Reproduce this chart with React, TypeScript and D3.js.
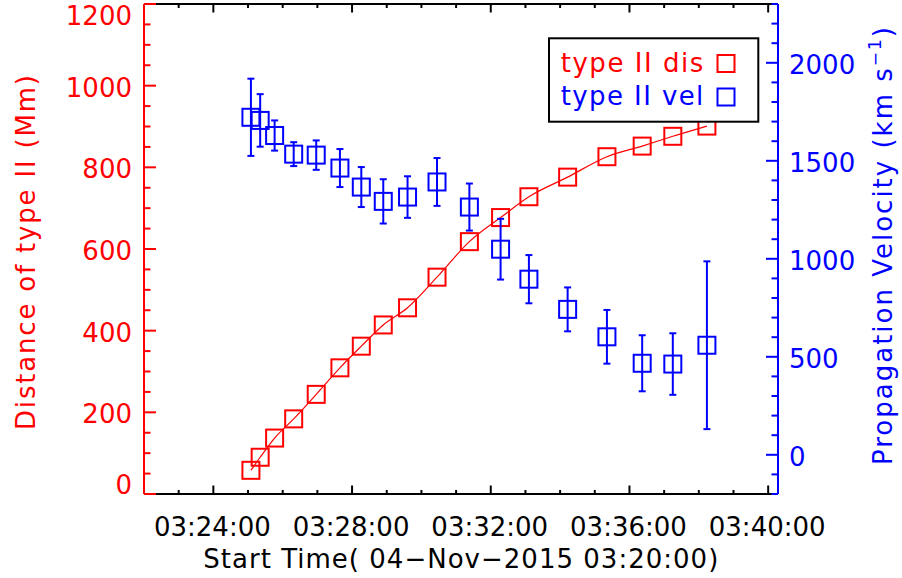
import React from "react";
import * as d3 from "d3";

// Type II radio burst: shock front distance and propagation speed
// Times are seconds after the reference start time 03:20:00 UT
const timeSec = [305, 321, 346, 379, 418, 459, 496, 534, 576, 627, 683, 737, 786, 853, 921, 982, 1035, 1094];
const distanceMm = [58, 90, 137, 184, 244, 309, 362, 414, 456, 531, 618, 677, 728, 776, 826, 852, 876, 901];
const velocityKms = [1722, 1706, 1629, 1534, 1529, 1463, 1366, 1293, 1315, 1392, 1264, 1049, 896, 742, 602, 467, 463, 559];
const velocityErr = [197, 134, 77, 61, 75, 97, 102, 113, 106, 122, 120, 155, 123, 112, 137, 143, 157, 428];

const timeMajorTicks = [240, 480, 720, 960, 1200];
const timeTickLabels = ["03:24:00", "03:28:00", "03:32:00", "03:36:00", "03:40:00"];
const distMajorTicks = [0, 200, 400, 600, 800, 1000, 1200];
const velMajorTicks = [0, 500, 1000, 1500, 2000];

const legendLabels = ["type II dis", "type II vel"];

const W = 902;
const H = 578;
const left = 144;
const right = 778;
const top = 4;
const bottom = 494;

const RED = "#ff0000";
const BLUE = "#0000ff";
const FONT = "'DejaVu Sans', sans-serif";

export default function App() {
  const x = d3.scaleLinear().domain([120, 1217]).range([left, right]);
  const yDist = d3.scaleLinear().domain([0, 1200]).range([bottom, top]);
  const yVel = d3.scaleLinear().domain([-200, 2300]).range([bottom, top]);

  const timeMinor = d3.range(120, 1201, 60);
  const distMinor = d3.range(0, 1201, 50);
  const velMinor = d3.range(-200, 2301, 100);

  const distLine = d3
    .line<number>()
    .x((_, i) => x(timeSec[i]))
    .y((d) => yDist(d))
    .curve(d3.curveMonotoneX)(distanceMm);

  const sq = 17;
  const cap = 3.5;

  return (
    <svg
      width={W}
      height={H}
      style={{ position: "absolute", left: 0, top: 0, background: "#fff" }}
      fontFamily={FONT}
    >
      <rect x={0} y={0} width={W} height={H} fill="#fff" />

      {/* distance series */}
      <path d={distLine || ""} fill="none" stroke={RED} strokeWidth={1.2} />
      {distanceMm.map((d, i) => (
        <rect
          key={"d" + i}
          x={x(timeSec[i]) - sq / 2}
          y={yDist(d) - sq / 2}
          width={sq}
          height={sq}
          fill="none"
          stroke={RED}
          strokeWidth={2}
        />
      ))}

      {/* velocity series with error bars */}
      {velocityKms.map((v, i) => {
        const cx = x(timeSec[i]);
        const y0 = yVel(v - velocityErr[i]);
        const y1 = yVel(v + velocityErr[i]);
        return (
          <g key={"v" + i} stroke={BLUE} strokeWidth={2} fill="none">
            <line x1={cx} x2={cx} y1={y0} y2={y1} />
            <line x1={cx - cap} x2={cx + cap} y1={y0} y2={y0} />
            <line x1={cx - cap} x2={cx + cap} y1={y1} y2={y1} />
            <rect x={cx - sq / 2} y={yVel(v) - sq / 2} width={sq} height={sq} />
          </g>
        );
      })}

      {/* bottom and top time axes */}
      <line x1={left} x2={right} y1={bottom} y2={bottom} stroke="#000" strokeWidth={2} />
      <line x1={left} x2={right} y1={top} y2={top} stroke="#000" strokeWidth={2} />
      {timeMinor.map((t) => {
        const major = timeMajorTicks.includes(t);
        const len = major ? 8.5 : 4;
        return (
          <g key={"t" + t} stroke="#000" strokeWidth={2}>
            <line x1={x(t)} x2={x(t)} y1={bottom} y2={bottom - len} />
            <line x1={x(t)} x2={x(t)} y1={top} y2={top + len} />
          </g>
        );
      })}
      {timeMajorTicks.map((t, i) => (
        <text key={"tl" + t} x={x(t) - 1} y={536} fontSize={26} textAnchor="middle" fill="#000">
          {timeTickLabels[i]}
        </text>
      ))}
      <text x={460.8} y={568.3} fontSize={26} textAnchor="middle" fill="#000" textLength={515} lengthAdjust="spacing">
        Start Time( 04−Nov−2015 03:20:00)
      </text>

      {/* left distance axis */}
      <line x1={left} x2={left} y1={top} y2={bottom} stroke={RED} strokeWidth={2} />
      {distMinor.map((d) => {
        const major = distMajorTicks.includes(d);
        return (
          <line
            key={"dm" + d}
            x1={left}
            x2={left + (major ? 12 : 6.5)}
            y1={yDist(d)}
            y2={yDist(d)}
            stroke={RED}
            strokeWidth={2}
          />
        );
      })}
      {distMajorTicks.map((d) => {
        const cy = Math.min(Math.max(yDist(d) + 1.5, 15.5), 485);
        return (
          <text key={"dl" + d} x={132} y={cy} dy="0.36em" fontSize={26} textAnchor="end" fill={RED}>
            {d}
          </text>
        );
      })}
      <text
        transform={`translate(35,252.5) rotate(-90)`}
        fontSize={26}
        textAnchor="middle"
        fill={RED}
        textLength={355}
        lengthAdjust="spacing"
      >
        Distance of type II (Mm)
      </text>

      {/* right velocity axis */}
      <line x1={right} x2={right} y1={top} y2={bottom} stroke={BLUE} strokeWidth={2} />
      {velMinor.map((v) => {
        const major = velMajorTicks.includes(v);
        return (
          <line
            key={"vm" + v}
            x1={right}
            x2={right - (major ? 12 : 6.5)}
            y1={yVel(v)}
            y2={yVel(v)}
            stroke={BLUE}
            strokeWidth={2}
          />
        );
      })}
      {velMajorTicks.map((v) => (
        <text key={"vl" + v} x={789} y={yVel(v) + 1.5} dy="0.36em" fontSize={26} textAnchor="start" fill={BLUE}>
          {v}
        </text>
      ))}
      <text
        transform={`translate(891.7,246) rotate(-90)`}
        fontSize={26}
        textAnchor="middle"
        fill={BLUE}
        textLength={438}
        lengthAdjust="spacing"
      >
        Propagation Velocity (km s
        <tspan fontSize={17} dy={-11}>−1</tspan>
        <tspan dy={11}>)</tspan>
      </text>

      {/* legend */}
      <rect x={549} y={38.3} width={209.3} height={83.4} fill="#fff" stroke="#000" strokeWidth={2} />
      <text x={560.7} y={71.7} fontSize={26} fill={RED} textLength={142.6} lengthAdjust="spacing">
        {legendLabels[0]}
      </text>
      <rect x={726 - sq / 2} y={63.5 - sq / 2} width={sq} height={sq} fill="none" stroke={RED} strokeWidth={2} />
      <text x={560.7} y={105} fontSize={26} fill={BLUE} textLength={142.6} lengthAdjust="spacing">
        {legendLabels[1]}
      </text>
      <rect x={726 - sq / 2} y={97 - sq / 2} width={sq} height={sq} fill="none" stroke={BLUE} strokeWidth={2} />
    </svg>
  );
}
